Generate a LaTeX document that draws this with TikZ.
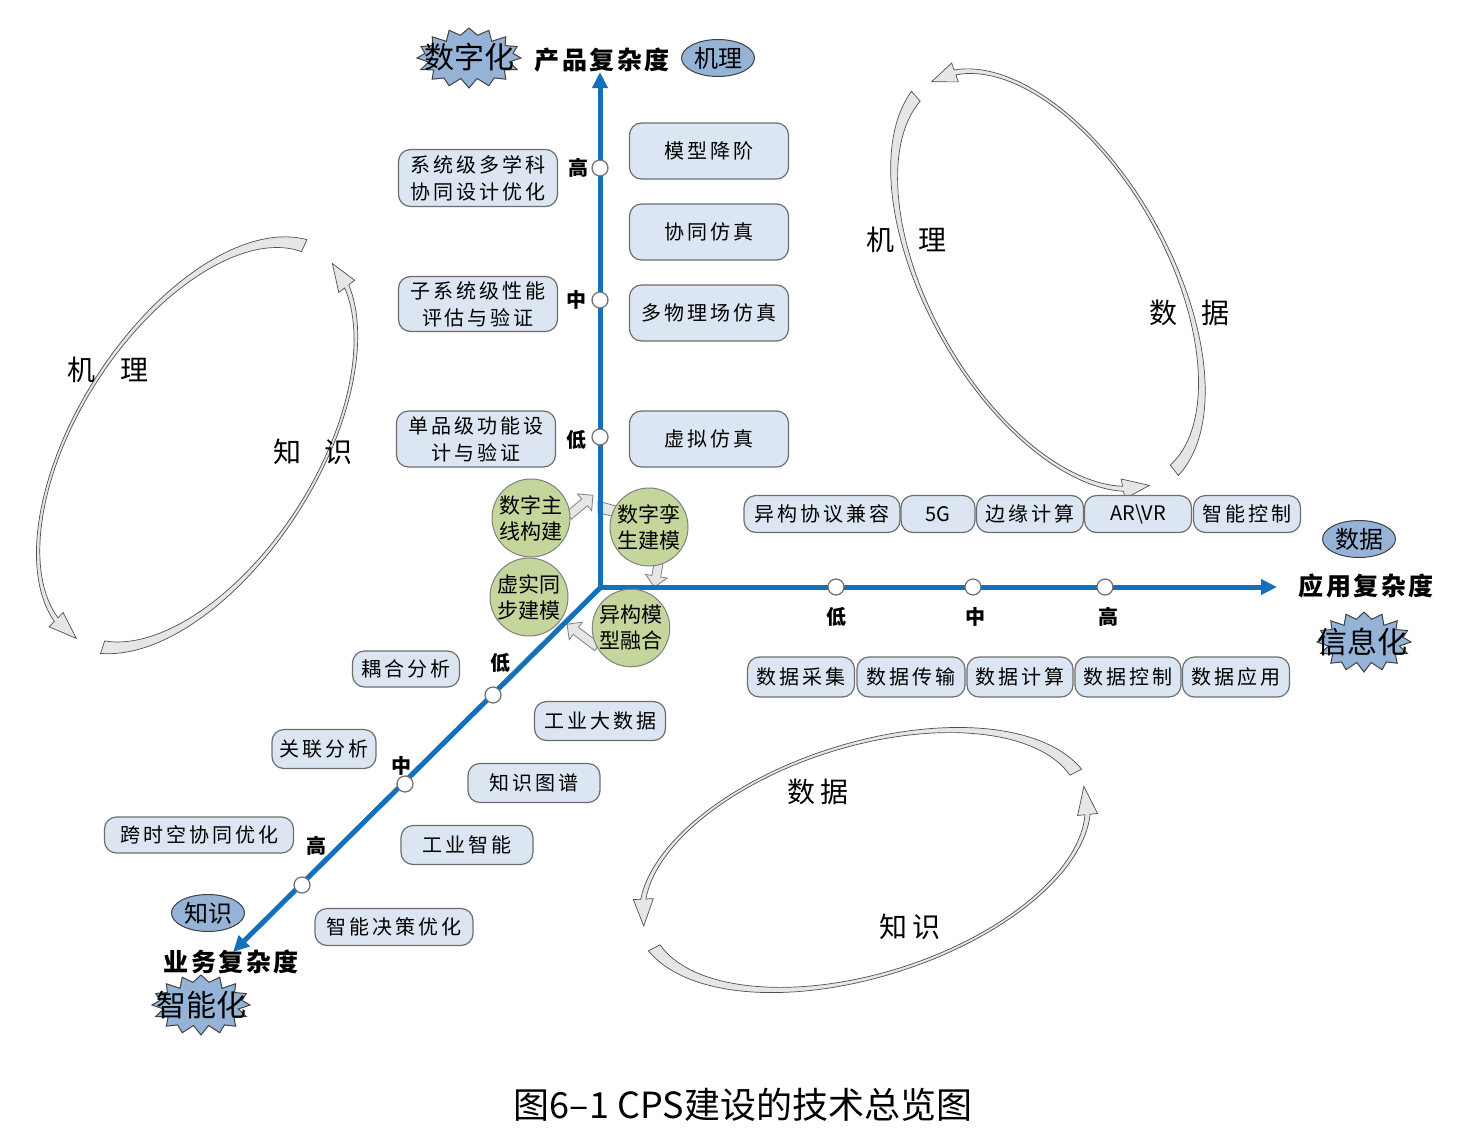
\documentclass[tikz,border=0pt]{standalone}
\usepackage{fontspec}
\setmainfont{Noto Sans CJK SC}
\newfontfamily\cjksp{Noto Sans CJK SC}[LetterSpace=15]
\newfontfamily\cjkwide{Noto Sans CJK SC}[LetterSpace=10]
\newfontfamily\cjkplain{Noto Sans CJK SC}
\usetikzlibrary{shapes.geometric,shapes.arrows,arrows.meta}

\definecolor{axisblue}{RGB}{20,112,186}
\definecolor{boxfill}{RGB}{220,230,242}
\definecolor{boxline}{RGB}{110,110,110}
\definecolor{greenfill}{RGB}{196,214,155}
\definecolor{tagfill}{RGB}{149,179,215}
\definecolor{ringfill}{RGB}{230,230,230}
\definecolor{ringline}{RGB}{80,80,80}

\newcommand\ringarrow[8]{%
  \def\rcx{#1}\def\rcy{#2}\def\ra{#3}\def\rb{#4}\def\rphi{#5}%
  \def\rtA{#6}\def\rtB{#7}\def\rtC{#8}\def\rH{10}%
  \draw[ring] plot[domain=\rtA:\rtB, samples=70, variable=\q]
      ({ex(\q, rw(rs(\q))/2)}, {ey(\q, rw(rs(\q))/2)})
    -- ({ex(\rtB,\rH)},{ey(\rtB,\rH)})
    -- ({ex(\rtC,0)},{ey(\rtC,0)})
    -- ({ex(\rtB,-\rH)},{ey(\rtB,-\rH)})
    -- plot[domain=\rtB:\rtA, samples=70, variable=\q]
      ({ex(\q, -rw(rs(\q))/2)}, {ey(\q, -rw(rs(\q))/2)})
    -- cycle;}

% starburst: cx cy rx ry
\newcommand\burstshape[4]{%
  \draw[burstline] plot[domain=0:360, samples=33, variable=\q]
    ({#1 + (#3 - 9*mod(round(\q/11.25),2)*(1+0.25*sin(5*\q)))*cos(\q)},
     {#2 + (#4 - 8*mod(round(\q/11.25),2)*(1+0.25*sin(5*\q)))*sin(\q)}) -- cycle;}

\begin{document}
\begin{tikzpicture}[x=0.5pt,y=-0.5pt,
  declare function={
    rw(\sv)=12*(1-\sv)^3+1.2+4*(\sv)^3;
    rs(\angv)=(\angv-\rtA)/(\rtB-\rtA);
    ex(\angv,\offv)=\rcx+(\ra+\offv)*cos(\angv)*cos(\rphi)-(\rb+\offv)*sin(\angv)*sin(\rphi);
    ey(\angv,\offv)=\rcy+(\ra+\offv)*cos(\angv)*sin(\rphi)+(\rb+\offv)*sin(\angv)*cos(\rphi);
  },
  box/.style={draw=boxline, fill=boxfill, rounded corners=6pt, line width=0.6pt,
    font=\cjksp\fontsize{10}{13.5}\selectfont, align=center, inner sep=0pt},
  tick/.style={circle, draw=boxline, fill=white, minimum size=8pt, inner sep=0pt, line width=0.6pt},
  ticklab/.style={font=\bfseries\fontsize{10}{12}\selectfont},
  gcirc/.style={circle, draw=gray, fill=greenfill, minimum size=39pt, inner sep=0pt,
    align=center, font=\fontsize{10.5}{13}\selectfont, line width=0.5pt},
  tag/.style={ellipse, draw=darkgray, fill=tagfill, minimum width=36.5pt, minimum height=18.5pt,
    inner sep=0pt, font=\fontsize{12}{12}\selectfont, line width=0.5pt},
  burstline/.style={draw=darkgray, fill=tagfill, line width=0.5pt, line join=miter},
  bursttext/.style={font=\fontsize{15}{15}\selectfont, inner sep=0pt},
  axlab/.style={font=\cjkwide\bfseries\fontsize{12.5}{13}\selectfont},
  axisline/.style={draw=axisblue, line width=2.5pt, -{Triangle[length=8pt,width=7.5pt]}},
  ring/.style={fill=ringfill, draw=ringline, line width=0.35pt},
  ringlab/.style={font=\fontsize{14}{14}\selectfont},
  blockarr/.style={single arrow, draw=gray, fill=ringfill, minimum width=11pt,
    single arrow head extend=2.5pt, inner sep=1.5pt, line width=0.4pt}
]
\useasboundingbox (0,0) rectangle (1458,1130);
\fill[white] (0,0) rectangle (1458,1130);

% ---------- ring arrows ----------
% right-top cycle
\ringarrow{1048}{280}{230}{120}{60.6}{-8}{-170}{-182}
\ringarrow{1048}{280}{230}{120}{60.6}{168}{18}{6}
% left cycle
\ringarrow{197}{445}{228}{120}{-57.5}{-8}{-168}{-181}
\ringarrow{197}{445}{228}{120}{-57.5}{166}{20}{8}
% bottom cycle
\ringarrow{865}{860}{231}{115}{-17.6}{-10}{-165}{-178}
\ringarrow{865}{860}{231}{115}{-17.6}{170}{12}{-2}

\node[ringlab] (rtl1) at (880,240) {机};
\node[ringlab] (rtl2) at (932,240) {理};
\node[ringlab] (rtl3) at (1163,313) {数};
\node[ringlab] (rtl4) at (1215,313) {据};
\node[ringlab] (ll1) at (82,370) {机};
\node[ringlab] (ll2) at (134,370) {理};
\node[ringlab] (ll3) at (287,452) {知};
\node[ringlab] (ll4) at (338,452) {识};
\node[ringlab] (bl1) at (818,792) {数\,据};
\node[ringlab] (bl2) at (910,927) {知\,识};

% ---------- small block arrows ----------
\node[blockarr, minimum height=16pt, rotate=40] (sa1) at (579,507) {};
\fill[ringfill, draw=gray, line width=0.4pt] (598,501) -- (616,506) -- (612,516) -- (598,513) -- cycle;
\node[blockarr, minimum height=13pt, rotate=-100] (sa2) at (657,572) {};
\node[blockarr, minimum height=19pt, rotate=143] (sa3) at (584,637) {};

% ---------- axes ----------
\coordinate (O) at (600,587);
\coordinate (Ytop) at (600,72);
\coordinate (Xend) at (1277,587);
\coordinate (Zend) at (233,952);
\draw[axisline] (600,589.5) -- (Ytop);
\draw[axisline] (597.5,587) -- (Xend);
\draw[axisline] (601,587) -- (Zend);

% ticks
\node[tick] (ty3) at (600,168) {};
\node[tick] (ty2) at (600,300) {};
\node[tick] (ty1) at (600,437) {};
\node[tick] (tx1) at (836,587) {};
\node[tick] (tx2) at (973,587) {};
\node[tick] (tx3) at (1105,587) {};
\node[tick] (tz1) at (493,695) {};
\node[tick] (tz2) at (405,784) {};
\node[tick] (tz3) at (302,885) {};

\node[ticklab] (ly3) at (578,168) {高};
\node[ticklab] (ly2) at (576,300) {中};
\node[ticklab] (ly1) at (576,440) {低};
\node[ticklab] (lx1) at (836,617) {低};
\node[ticklab] (lx2) at (975,617) {中};
\node[ticklab] (lx3) at (1108,617) {高};
\node[ticklab] (lz1) at (500,663) {低};
\node[ticklab] (lz2) at (401,766) {中};
\node[ticklab] (lz3) at (316,846) {高};

% ---------- green circles ----------
\node[gcirc] (g1) at (531,518) {数字主\\线构建};
\node[gcirc] (g2) at (649,527) {数字孪\\生建模};
\node[gcirc] (g3) at (529,597) {虚实同\\步建模};
\node[gcirc, minimum size=38pt] (g4) at (631,628) {异构模\\型融合};

% ---------- vertical axis boxes ----------
\node[box, minimum width=79.5pt, minimum height=28.5pt] (v1) at (478,178) {系统级多学科\\协同设计优化};
\node[box, minimum width=79.5pt, minimum height=27.5pt] (v2) at (478,304) {子系统级性能\\评估与验证};
\node[box, minimum width=79.5pt, minimum height=28pt] (v3) at (476,439) {单品级功能设\\计与验证};
\node[box, minimum width=79.5pt, minimum height=28pt] (r1) at (709,151) {模型降阶};
\node[box, minimum width=79.5pt, minimum height=28pt] (r2) at (709,232) {协同仿真};
\node[box, minimum width=79.5pt, minimum height=28pt] (r3) at (709,313) {多物理场仿真};
\node[box, minimum width=79.5pt, minimum height=28pt] (r4) at (709,439) {虚拟仿真};

% ---------- horizontal axis boxes ----------
\node[box, minimum width=78pt, minimum height=18.5pt] (a1) at (822,514) {异构协议兼容};
\node[box, minimum width=37pt, minimum height=18.5pt, font=\cjkplain\fontsize{10}{12}\selectfont] (a2) at (938,514) {5G};
\node[box, minimum width=53.5pt, minimum height=18.5pt] (a3) at (1030,514) {边缘计算};
\node[box, minimum width=53.5pt, minimum height=18.5pt, font=\cjkplain\fontsize{10}{12}\selectfont] (a4) at (1138,514) {AR\textbackslash VR};
\node[box, minimum width=53.5pt, minimum height=18.5pt] (a5) at (1247,514) {智能控制};

\node[box, minimum width=53.5pt, minimum height=20pt] (b1) at (801,677) {数据采集};
\node[box, minimum width=54pt, minimum height=20pt] (b2) at (911,677) {数据传输};
\node[box, minimum width=53pt, minimum height=20pt] (b3) at (1020,677) {数据计算};
\node[box, minimum width=53pt, minimum height=20pt] (b4) at (1128,677) {数据控制};
\node[box, minimum width=53.5pt, minimum height=20pt] (b5) at (1236,677) {数据应用};

% ---------- diagonal axis boxes ----------
\node[box, minimum width=53.5pt, minimum height=18pt] (d1) at (406,669) {耦合分析};
\node[box, minimum width=52pt, minimum height=19.5pt] (d2) at (324,749) {关联分析};
\node[box, minimum width=94.5pt, minimum height=18pt] (d3) at (199,835) {跨时空协同优化};
\node[box, minimum width=65.5pt, minimum height=19.5pt] (d4) at (600,721) {工业大数据};
\node[box, minimum width=66pt, minimum height=19.5pt] (d5) at (534,783) {知识图谱};
\node[box, minimum width=66pt, minimum height=19.5pt] (d6) at (467,845) {工业智能};
\node[box, minimum width=79pt, minimum height=18.5pt] (d7) at (394,927) {智能决策优化};

% ---------- tags & bursts ----------
\burstshape{469}{58}{52}{30}
\node[bursttext] (s1) at (469,57) {数字化};
\burstshape{201}{1005}{49}{30}
\node[bursttext] (s2) at (201,1005) {智能化};
\burstshape{1364}{642}{47}{30}
\node[bursttext] (s3) at (1362,642) {信息化};
\node[tag] (e1) at (718,58) {机理};
\node[tag] (e2) at (208,913) {知识};
\node[tag] (e3) at (1359,539) {数据};

\node[axlab] (ax1) at (602,60) {产品复杂度};
\node[axlab] (ax2) at (231,962) {业务复杂度};
\node[axlab] (ax3) at (1366,586) {应用复杂度};

% ---------- caption ----------
\node[font=\fontsize{18}{18}\selectfont] (cap) at (743,1105) {图6–1 CPS建设的技术总览图};
\end{tikzpicture}
\end{document}
